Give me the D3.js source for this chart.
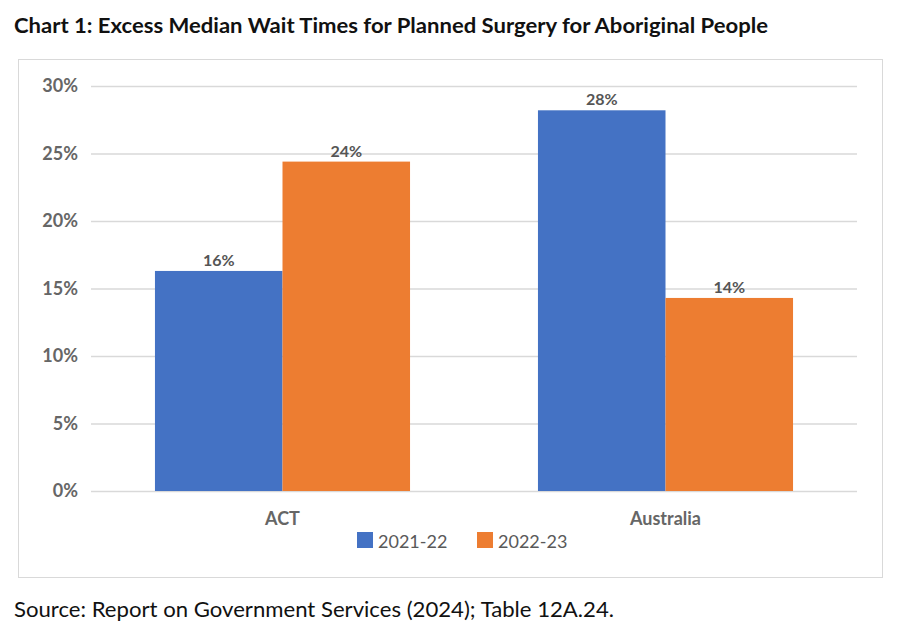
<!DOCTYPE html>
<html><head><meta charset="utf-8">
<script src="https://cdn.jsdelivr.net/npm/d3@7"></script>
<style>body{margin:0;background:#fff}svg{display:block}</style>
</head><body>
<script>
const categories = ["ACT", "Australia"];
const seriesNames = ["2021-22", "2022-23"];
const values2021 = [0.163, 0.282];
const values2022 = [0.244, 0.143];
const yTicks = [0, 0.05, 0.10, 0.15, 0.20, 0.25, 0.30];
const titleText = "Chart 1: Excess Median Wait Times for Planned Surgery for Aboriginal People";
const sourceText = "Source: Report on Government Services (2024); Table 12A.24.";
const colors = ["#4472C4", "#ED7D31"];

const W = 900, H = 632;
const svg = d3.select("body").append("svg").attr("width", W).attr("height", H);
const font = "Lato, 'Open Sans', sans-serif";

svg.append("text").attr("x", 14).attr("y", 33).attr("font-family", font)
  .attr("font-weight", "bold").attr("font-size", 21).attr("fill", "#111")
  .attr("textLength", 754).attr("lengthAdjust", "spacingAndGlyphs").text(titleText);

svg.append("rect").attr("x", 18.5).attr("y", 59.5).attr("width", 864).attr("height", 518)
  .attr("fill", "#fff").attr("stroke", "#d9d9d9");

const x0 = d3.scaleBand().domain(categories).range([91, 857]).paddingInner(0.334).paddingOuter(0.167);
const x1 = d3.scaleBand().domain(seriesNames).range([0, x0.bandwidth()]);
const y = d3.scaleLinear().domain([0, 0.30]).range([491, 86]);

const yAxis = d3.axisLeft(y).tickValues(yTicks).tickFormat(d3.format(".0%")).tickSize(-(857 - 91)).tickPadding(13);
const gy = svg.append("g").attr("transform", "translate(91,0)").call(yAxis);
gy.select(".domain").remove();
gy.selectAll(".tick line").attr("stroke", "#d9d9d9").attr("stroke-width", 1.5);
gy.selectAll(".tick text").attr("font-family", font).attr("font-weight", "bold")
  .attr("font-size", 18).attr("fill", "#666");

const data = categories.map((c, i) => ({cat: c, vals: [values2021[i], values2022[i]]}));
const groups = svg.append("g").selectAll("g").data(data).join("g")
  .attr("transform", d => `translate(${x0(d.cat)},0)`);
groups.selectAll("rect").data(d => d.vals.map((v, j) => ({s: seriesNames[j], v, j})))
  .join("rect").attr("x", d => x1(d.s)).attr("width", x1.bandwidth())
  .attr("y", d => y(d.v)).attr("height", d => y(0) - y(d.v)).attr("fill", d => colors[d.j]);
groups.selectAll("text.lbl").data(d => d.vals.map((v, j) => ({s: seriesNames[j], v, j})))
  .join("text").attr("class", "lbl").attr("x", d => x1(d.s) + x1.bandwidth() / 2)
  .attr("y", d => y(d.v) - 5).attr("text-anchor", "middle").attr("font-family", font)
  .attr("font-weight", "bold").attr("font-size", 16).attr("fill", "#555")
  .text(d => d3.format(".0%")(d.v));

const xAxis = d3.axisBottom(x0).tickSize(0).tickPadding(0);
const gx = svg.append("g").attr("transform", "translate(0,491)").call(xAxis);
gx.select(".domain").remove();
gx.selectAll(".tick text").attr("dy", null).attr("y", 34).attr("font-family", font)
  .attr("font-weight", "bold").attr("font-size", 18).attr("fill", "#666");

const legX = [357, 477];
const leg = svg.append("g").selectAll("g").data(seriesNames).join("g")
  .attr("transform", (d, i) => `translate(${legX[i]},532)`);
leg.append("rect").attr("width", 16).attr("height", 16).attr("fill", (d, i) => colors[i]);
leg.append("text").attr("x", 21).attr("y", 16).attr("font-family", font)
  .attr("font-size", 18).attr("fill", "#595959").text(d => d);

svg.append("text").attr("x", 14).attr("y", 617).attr("font-family", font)
  .attr("font-size", 20.5).attr("fill", "#111").attr("textLength", 600)
  .attr("lengthAdjust", "spacingAndGlyphs").text(sourceText);
</script>
</body></html>
